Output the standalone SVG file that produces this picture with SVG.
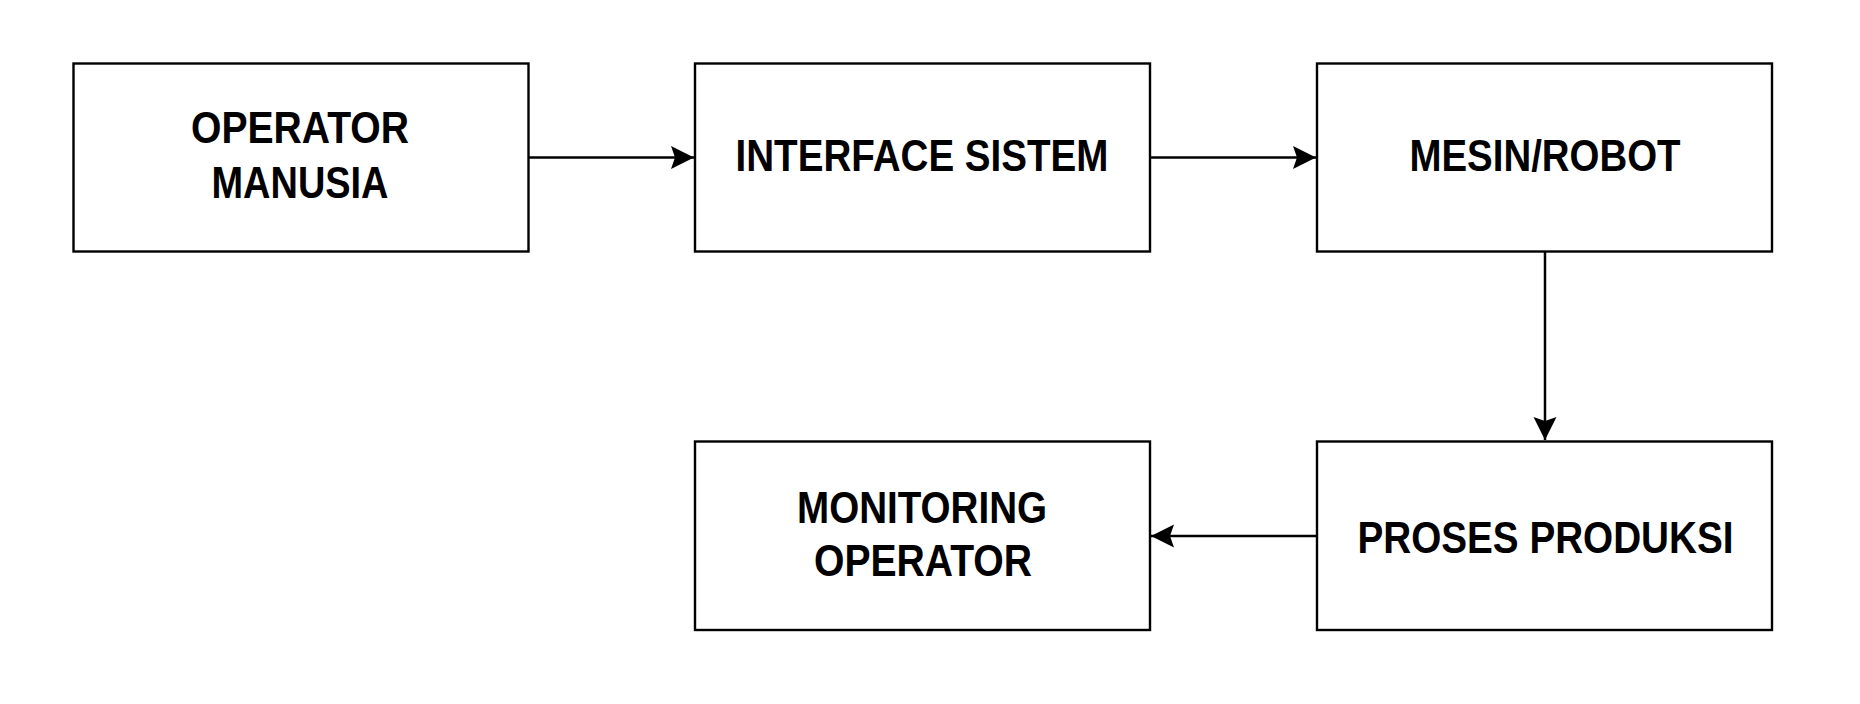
<svg xmlns="http://www.w3.org/2000/svg" width="1860" height="704" viewBox="0 0 1860 704">
<defs>
<style>
.box{fill:#fff;stroke:#000;stroke-width:2.4}
.lbl{font-family:"Liberation Sans",Arial,sans-serif;font-weight:bold;font-size:45px;fill:#000;text-anchor:middle}
.conn{fill:none;stroke:#000;stroke-width:2.5}
</style>
<marker id="ah" markerUnits="userSpaceOnUse" markerWidth="26" markerHeight="26" viewBox="-25 -13 26 26" refX="0" refY="0" orient="auto">
<path d="M0,0 L-23,-11.5 L-19,0 L-23,11.5 Z" fill="#000"/>
</marker>
</defs>
<rect width="1860" height="704" fill="#fff"/>
<g id="connectors">
<path class="conn" d="M528.5,157.5 H694" marker-end="url(#ah)"/>
<path class="conn" d="M1150,157.5 H1316" marker-end="url(#ah)"/>
<path class="conn" d="M1545,251.5 V440" marker-end="url(#ah)"/>
<path class="conn" d="M1317,536 H1151" marker-end="url(#ah)"/>
</g>
<g id="operator-manusia">
<rect class="box" x="73.5" y="63.5" width="455" height="188"/>
<text class="lbl" x="300" y="143" textLength="218" lengthAdjust="spacingAndGlyphs">OPERATOR</text>
<text class="lbl" x="300" y="198" textLength="177" lengthAdjust="spacingAndGlyphs">MANUSIA</text>
</g>
<g id="interface-sistem">
<rect class="box" x="695" y="63.5" width="455" height="188"/>
<text class="lbl" x="922" y="171" textLength="373" lengthAdjust="spacingAndGlyphs">INTERFACE SISTEM</text>
</g>
<g id="mesin-robot">
<rect class="box" x="1317" y="63.5" width="455" height="188"/>
<text class="lbl" x="1545" y="171" textLength="271" lengthAdjust="spacingAndGlyphs">MESIN/ROBOT</text>
</g>
<g id="proses-produksi">
<rect class="box" x="1317" y="441.5" width="455" height="188.5"/>
<text class="lbl" x="1545.5" y="553" textLength="376" lengthAdjust="spacingAndGlyphs">PROSES PRODUKSI</text>
</g>
<g id="monitoring-operator">
<rect class="box" x="695" y="441.5" width="455" height="188.5"/>
<text class="lbl" x="922" y="523" textLength="250" lengthAdjust="spacingAndGlyphs">MONITORING</text>
<text class="lbl" x="923" y="576" textLength="218" lengthAdjust="spacingAndGlyphs">OPERATOR</text>
</g>
</svg>
